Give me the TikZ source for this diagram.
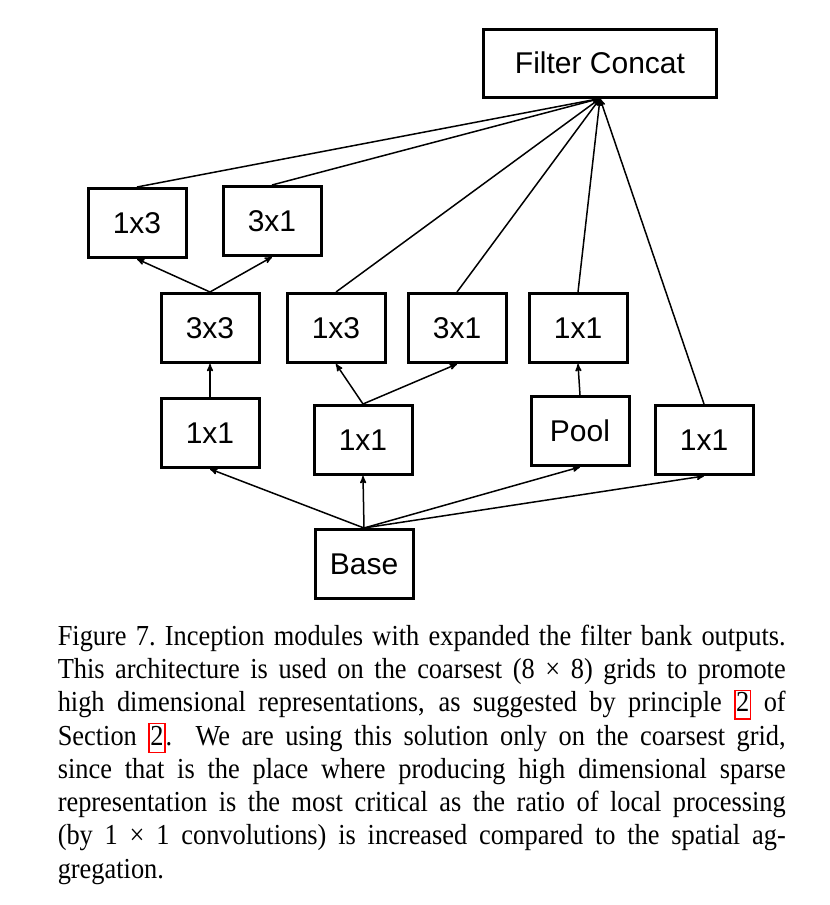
\documentclass[tikz,border=0pt]{standalone}
\usepackage{fontspec}
\setmainfont{Liberation Serif}
\newfontfamily\boxfont{Liberation Sans}
\newfontfamily\captionfont[FakeStretch=0.91]{Liberation Serif}
\usetikzlibrary{arrows}
\newcommand{\reflink}[1]{{\setlength{\fboxsep}{0.5pt}\setlength{\fboxrule}{1.5pt}\textcolor{red}{\fbox{\textcolor{black}{\vphantom{(}#1}}}}}

\begin{document}
\begin{tikzpicture}[x=1pt,y=-1pt,->,>=stealth',line width=1.5pt]
                \useasboundingbox (0,0) rectangle (830,905);
                \tikzset{layer/.style={shape=rectangle,draw=black,line width=3pt,minimum width=98pt,minimum height=69pt,font=\boxfont\fontsize{30}{36}\selectfont}}
                \node[layer,minimum width=233pt,minimum height=68pt](concat)at(600, 63){Filter Concat};
                \node[layer](t13)at(137, 223){1x3};
                \node[layer](t31)at(272, 221){3x1};
                \node[layer](m33)at(210, 328){3x3};
                \node[layer](m13)at(336, 328){1x3};
                \node[layer](m31)at(457, 328){3x1};
                \node[layer](m11)at(578, 328){1x1};
                \node[layer](l11)at(210, 433){1x1};
                \node[layer](s11)at(363, 440){1x1};
                \node[layer](pool)at(580, 431){Pool};
                \node[layer](r11)at(704, 440){1x1};
                \node[layer](base)at(364, 564){Base};
                \path[](base.north) edge (l11.south)
                (base.north) edge (s11.south)
                (base.north) edge (pool.south)
                (base.north) edge (r11.south)
                (l11.north) edge (m33.south)
                (s11.north) edge (m13.south)
                (s11.north) edge (m31.south)
                (pool.north) edge (m11.south)
                (m33.north) edge (t13.south)
                (m33.north) edge (t31.south)
                (t13.north) edge (concat.south)
                (t31.north) edge (concat.south)
                (m13.north) edge (concat.south)
                (m31.north) edge (concat.south)
                (m11.north) edge (concat.south)
                (r11.north) edge (concat.south);
                \node[anchor=north west,inner sep=0pt,text width=728pt,align=justify,font=\captionfont\fontsize{29}{33.3}\selectfont](caption)at(57, 624){Figure 7.\ Inception modules with expanded the filter bank outputs.\linebreak
                This architecture is used on the coarsest (8~×~8) grids to promote\linebreak
                high dimensional representations, as suggested by principle \reflink{2} of\linebreak
                Section \reflink{2}.  We are using this solution only on the coarsest grid,\linebreak
                since that is the place where producing high dimensional sparse\linebreak
                representation is the most critical as the ratio of local processing\linebreak
                (by 1~×~1 convolutions) is increased compared to the spatial ag-\linebreak
                gregation.};
            \end{tikzpicture}
\end{document}
